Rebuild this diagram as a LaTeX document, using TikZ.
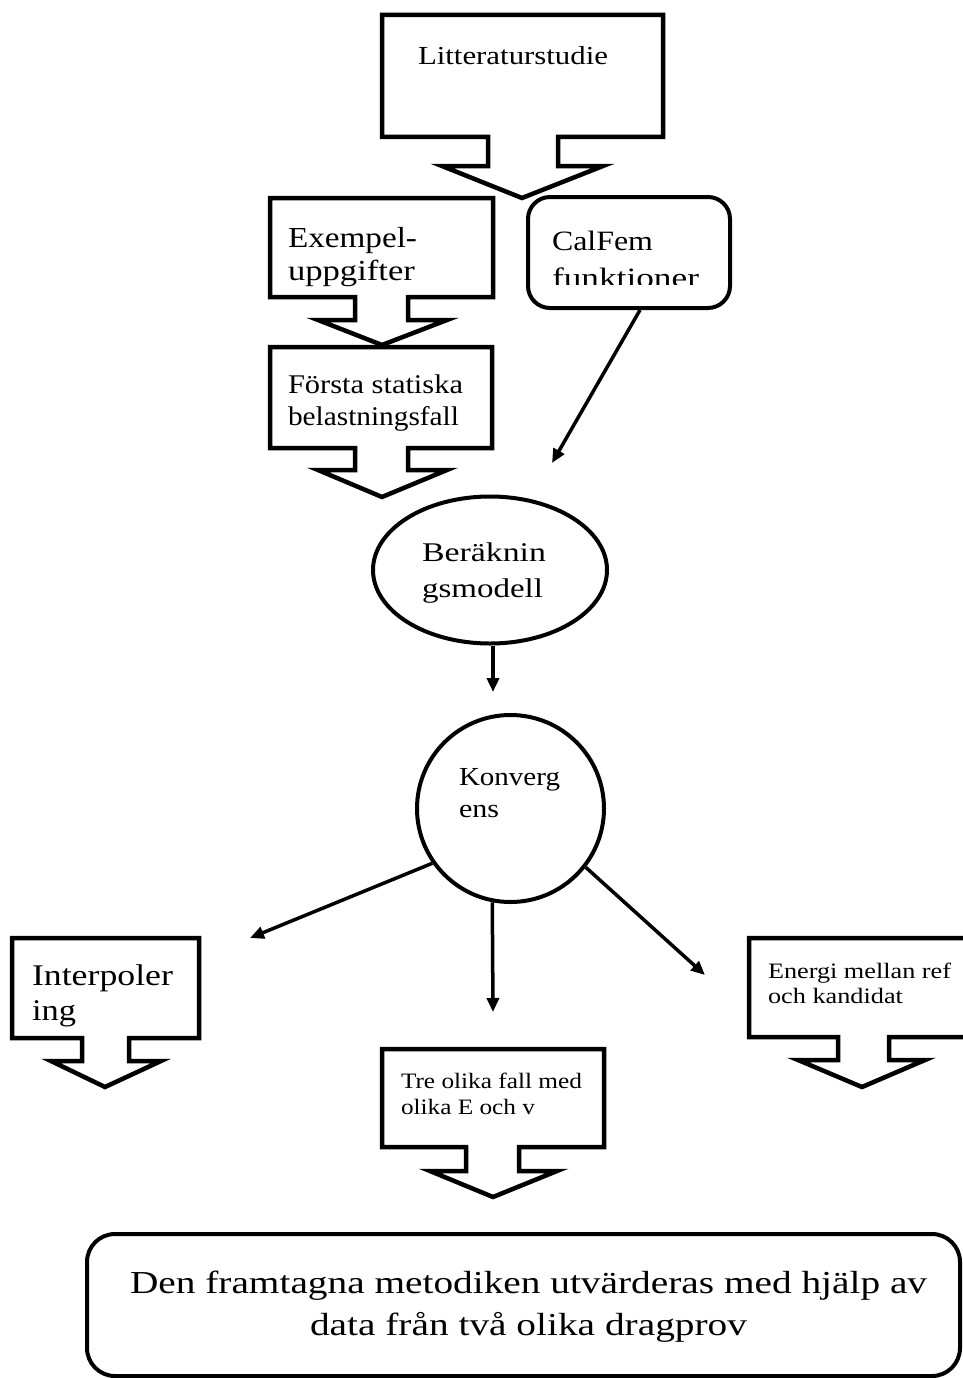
\documentclass[tikz,border=0pt]{standalone}
\usepackage{fontspec}
\setmainfont{Liberation Serif}
\usepackage{graphicx}
\usetikzlibrary{shapes.geometric,arrows.meta}
\newcommand{\fitline}[6]{\node[txt, font=\fontsize{#5}{#5}\selectfont] (#1) at (#2,#3) {\resizebox{#4pt}{\height}{#6}};}
\tikzset{
  txt/.style={anchor=base west, inner sep=0pt, outer sep=0pt},
  callout/.style={draw, line width=4.5pt, line join=miter, miter limit=10, fill=white},
  arr/.style={line width=3.5pt, -{Triangle[length=14pt,width=12pt]}},
  rbox/.style={draw, line width=4pt, fill=white, inner sep=0pt},
  ring/.style={draw, line width=4pt, fill=white, inner sep=0pt}
}
\begin{document}
\begin{tikzpicture}[x=1pt,y=-1pt]
\useasboundingbox (0,0) rectangle (962,1378);

% callout shapes
\path[callout] (382,15) -- (663,15) -- (663,137) -- (558,137) -- (558,166) -- (603,166) -- (522,198) -- (442,166) -- (488,166) -- (488,137) -- (382,137) -- cycle;
\path[callout] (270,198) -- (493,198) -- (493,297) -- (408,297) -- (408,320) -- (447,320) -- (382,345) -- (318,320) -- (355,320) -- (355,297) -- (270,297) -- cycle;
\path[callout] (270,347) -- (492,347) -- (492,448) -- (408,448) -- (408,470) -- (447,470) -- (382,497) -- (318,470) -- (355,470) -- (355,448) -- (270,448) -- cycle;
\path[callout] (12,938) -- (199,938) -- (199,1038) -- (129,1038) -- (129,1061) -- (161,1061) -- (105,1087) -- (51,1061) -- (82,1061) -- (82,1038) -- (12,1038) -- cycle;
\path[callout] (749,938) -- (975,938) -- (975,1037) -- (889,1037) -- (889,1060) -- (925,1060) -- (862,1087) -- (798,1060) -- (838,1060) -- (838,1037) -- (749,1037) -- cycle;
\path[callout] (382,1049) -- (604,1049) -- (604,1147) -- (519,1147) -- (519,1171) -- (557,1171) -- (493,1197) -- (430,1171) -- (466,1171) -- (466,1147) -- (382,1147) -- cycle;

% rounded boxes, ellipse, circle
\node[rbox, rounded corners=22pt, minimum width=202pt, minimum height=111pt] (calfem) at (629,252.5) {};
\node[rbox, rounded corners=28pt, minimum width=873pt, minimum height=142pt] (final) at (523.5,1305) {};
\node[ring, ellipse, minimum width=234pt, minimum height=147pt] (berak) at (490,570) {};
\node[ring, circle, minimum size=187pt] (konv) at (510.5,808.5) {};

% free arrow ends
\coordinate (cfend) at (552,463);
\coordinate (bkend) at (493,692);
\coordinate (lend) at (250,938);
\coordinate (mend) at (493,1012);
\coordinate (rend) at (705,975);

% connectors
\draw[arr] ([xshift=11pt]calfem.south) -- (cfend);
\draw[arr] ([xshift=3pt]berak.south) -- (bkend);
\draw[arr] (konv.215.7) -- (lend);
\draw[arr] (konv.259) -- (mend);
\draw[arr] (konv.-38.6) -- (rend);

% texts
\fitline{t1}{418}{65}{190}{26}{Litteraturstudie}
\fitline{t2a}{288}{247}{129}{29}{Exempel-}
\fitline{t2b}{288}{280}{127}{29}{uppgifter}
\fitline{t3a}{288}{393}{175}{27}{Första statiska}
\fitline{t3b}{288}{425}{171}{27}{belastningsfall}
\fitline{t4a}{552}{250}{101}{28}{CalFem}
\begin{scope}
\clip (528,197) rectangle (730,284);
\fitline{t4b}{552}{287}{147}{28}{funktioner}
\end{scope}
\fitline{t5a}{422}{561}{124}{27}{Beräknin}
\fitline{t5b}{422}{597}{121}{27}{gsmodell}
\fitline{t6a}{459}{785}{101}{26}{Konverg}
\fitline{t6b}{459}{817}{40}{26}{ens}
\fitline{t7a}{32}{985}{141}{30}{Interpoler}
\fitline{t7b}{32}{1020}{44}{30}{ing}
\fitline{t8a}{768}{978}{183}{22}{Energi mellan ref}
\fitline{t8b}{768}{1003}{135}{22}{och kandidat}
\fitline{t9a}{401}{1088}{181}{22}{Tre olika fall med}
\fitline{t9b}{401}{1114}{134}{22}{olika E och v}
\fitline{t10a}{130}{1293}{797}{32}{Den framtagna metodiken utvärderas med hjälp av}
\fitline{t10b}{310}{1335}{437}{32}{data från två olika dragprov}
\end{tikzpicture}
\end{document}
